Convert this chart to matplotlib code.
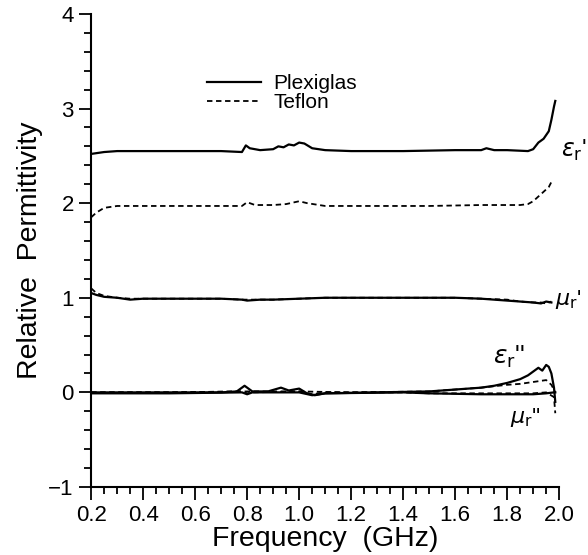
import matplotlib
matplotlib.use("Agg")
import matplotlib.pyplot as plt
from matplotlib.ticker import MultipleLocator

# eps_r' (real permittivity)
f_eps1_plexi = [0.2, 0.25, 0.3, 0.4, 0.5, 0.6, 0.7, 0.78, 0.795, 0.81, 0.85, 0.9, 0.92, 0.94,
                0.96, 0.98, 1.0, 1.02, 1.05, 1.1, 1.2, 1.4, 1.6, 1.7, 1.72, 1.75, 1.8, 1.88,
                1.9, 1.92, 1.94, 1.96, 1.97, 1.98, 1.985]
eps1_plexi = [2.52, 2.54, 2.55, 2.55, 2.55, 2.55, 2.55, 2.54, 2.61, 2.58, 2.56, 2.57, 2.60, 2.59,
              2.62, 2.61, 2.64, 2.63, 2.58, 2.56, 2.55, 2.55, 2.56, 2.56, 2.58, 2.56, 2.56, 2.55,
              2.57, 2.64, 2.68, 2.76, 2.88, 3.02, 3.08]
f_eps1_teflon = [0.2, 0.22, 0.25, 0.3, 0.35, 0.5, 0.7, 0.78, 0.8, 0.83, 0.9, 0.95, 1.0, 1.03,
                 1.1, 1.3, 1.5, 1.7, 1.85, 1.88, 1.9, 1.92, 1.94, 1.96, 1.975]
eps1_teflon = [1.85, 1.90, 1.95, 1.97, 1.97, 1.97, 1.97, 1.97, 2.01, 1.98, 1.98, 1.99, 2.02, 2.00,
               1.97, 1.97, 1.97, 1.98, 1.98, 1.99, 2.02, 2.07, 2.12, 2.17, 2.25]

# mu_r'
f_mu1 = [0.2, 0.22, 0.25, 0.3, 0.35, 0.4, 0.5, 0.6, 0.7, 0.78, 0.8, 0.85, 0.9, 1.0, 1.1, 1.2,
         1.4, 1.6, 1.7, 1.8, 1.85, 1.9, 1.93, 1.95, 1.97]
mu1_plexi = [1.05, 1.03, 1.01, 1.00, 0.98, 0.99, 0.99, 0.99, 0.99, 0.98, 0.97, 0.98, 0.98, 0.99,
             1.00, 1.00, 1.00, 1.00, 0.99, 0.97, 0.96, 0.95, 0.94, 0.96, 0.95]
mu1_teflon = [1.10, 1.05, 1.02, 1.00, 0.99, 0.99, 0.99, 0.99, 0.99, 0.98, 0.98, 0.98, 0.98, 0.99,
              1.00, 1.00, 1.00, 1.00, 0.99, 0.98, 0.96, 0.95, 0.95, 0.94, 0.96]

# eps_r''
f_eps2_plexi = [0.2, 0.3, 0.5, 0.7, 0.76, 0.79, 0.82, 0.88, 0.93, 0.96, 1.0, 1.03, 1.06, 1.1,
                1.3, 1.5, 1.6, 1.7, 1.75, 1.8, 1.85, 1.88, 1.9, 1.92, 1.935, 1.95, 1.96, 1.97,
                1.98, 1.985]
eps2_plexi = [0.0, 0.0, 0.0, 0.0, 0.01, 0.07, 0.01, 0.01, 0.05, 0.02, 0.04, -0.01, -0.03, -0.01,
              0.0, 0.01, 0.03, 0.05, 0.07, 0.10, 0.14, 0.18, 0.22, 0.26, 0.23, 0.29, 0.27, 0.20,
              0.05, -0.10]
f_eps2_teflon = [0.2, 0.5, 0.8, 1.0, 1.2, 1.5, 1.6, 1.7, 1.8, 1.85, 1.9, 1.95, 1.97, 1.985]
eps2_teflon = [0.0, 0.0, 0.01, 0.01, 0.0, 0.01, 0.03, 0.05, 0.08, 0.09, 0.11, 0.13, 0.08, 0.0]

# mu_r''
f_mu2 = [0.2, 0.5, 0.78, 0.8, 0.82, 1.0, 1.05, 1.1, 1.4, 1.5, 1.7, 1.9, 1.95, 1.98, 1.985]
mu2_plexi = [-0.01, -0.01, 0.0, -0.02, 0.0, 0.0, -0.03, -0.01, 0.0, -0.01, -0.02, -0.02, -0.01,
             0.0, 0.0]
mu2_teflon = [0.0, 0.0, 0.01, -0.01, 0.0, 0.01, -0.02, 0.0, 0.0, -0.01, -0.01, -0.01, 0.0,
              -0.05, -0.22]

plt.rcParams["font.family"] = ["Liberation Sans", "DejaVu Sans"]
plt.rcParams["mathtext.fontset"] = "dejavusans"

fig = plt.figure(figsize=(5.88, 5.55), dpi=100)
ax = fig.add_axes([0.155, 0.1225, 0.796, 0.8525])

solid = dict(color="black", lw=1.6, ls="-")
dashed = dict(color="black", lw=1.3, ls=(0, (3, 2)))

ax.plot(f_eps1_plexi, eps1_plexi, label="Plexiglas", **solid)
ax.plot(f_eps1_teflon, eps1_teflon, label="Teflon", **dashed)
ax.plot(f_mu1, mu1_teflon, **dashed)
ax.plot(f_mu1, mu1_plexi, **solid)
ax.plot(f_eps2_teflon, eps2_teflon, **dashed)
ax.plot(f_eps2_plexi, eps2_plexi, **solid)
ax.plot(f_mu2, mu2_teflon, **dashed)
ax.plot(f_mu2, mu2_plexi, **solid)

ax.set_xlim(0.2, 2.0)
ax.set_ylim(-1, 4)
ax.xaxis.set_major_locator(MultipleLocator(0.2))
ax.xaxis.set_minor_locator(MultipleLocator(0.05))
ax.yaxis.set_major_locator(MultipleLocator(1))
ax.yaxis.set_minor_locator(MultipleLocator(0.2))
ax.tick_params(which="both", direction="out", width=1.3, labelsize=16)
ax.tick_params(which="major", length=9)
ax.tick_params(which="minor", length=5)
ax.tick_params(axis="x", pad=4)
ax.xaxis.set_major_formatter(plt.FuncFormatter(lambda v, p: f"{v:.1f}"))
ax.yaxis.set_major_formatter(plt.FuncFormatter(lambda v, p: f"{v:.0f}".replace("-", "\u2212")))
for s in ["top", "right"]:
    ax.spines[s].set_visible(False)
for s in ["left", "bottom"]:
    ax.spines[s].set_linewidth(1.5)

ax.set_xlabel("Frequency  (GHz)", fontsize=20.5, labelpad=0)
ax.set_ylabel("Relative  Permittivity", fontsize=20.5, labelpad=4)

ax.legend(loc="upper left", bbox_to_anchor=(0.225, 0.895), frameon=False, fontsize=15,
          handlelength=2.6, handletextpad=0.6, labelspacing=0.0, borderpad=0)

ax.text(2.006, 2.56, r"$\varepsilon_\mathrm{r}$'", fontsize=17, va="center", ha="left", clip_on=False)
ax.text(1.985, 0.98, r"$\mu_\mathrm{r}$'", fontsize=16, va="center", ha="left", clip_on=False)
ax.text(1.745, 0.38, r"$\varepsilon_\mathrm{r}$''", fontsize=18, va="center", ha="left")
ax.text(1.81, -0.27, r"$\mu_\mathrm{r}$''", fontsize=16, va="center", ha="left")

fig.savefig("out.png", dpi=100)
